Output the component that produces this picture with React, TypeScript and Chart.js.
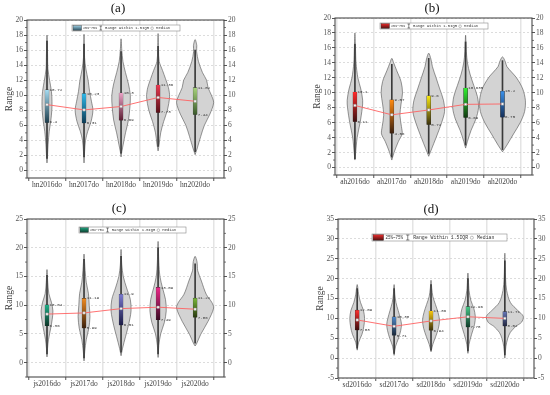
import React, { useEffect, useRef } from 'react';
import { Chart, registerables } from 'chart.js';
Chart.register(...registerables);

type Prof = [number, number][];

// ---------------- (a) ----------------
const catsA = ['hn2016do', 'hn2017do', 'hn2018do', 'hn2019do', 'hn2020do'];
const q3A = [10.72, 10.23, 10.3, 11.36, 11.02];
const q1A = [6.4, 6.31, 6.69, 7.73, 7.44];
const medA = [8.75, 8.05, 8.5, 9.7, 9.2];
const lowA = [1.6, 1.8, 2.3, 3.2, 2.5];
const highA = [17.2, 16.8, 15.8, 16.5, 16.0];
const violinsA: Prof[] = [
  [[1, 0], [1.8, 0.012], [3.5, 0.03], [5.2, 0.06], [6.5, 0.1], [8, 0.13], [9.2, 0.135], [10.5, 0.12], [12, 0.07], [13.5, 0.025], [15.5, 0.015], [18, 0]],
  [[1, 0], [2.5, 0.015], [4, 0.04], [5.2, 0.1], [6.5, 0.19], [8, 0.24], [9.2, 0.2], [10.5, 0.15], [12, 0.11], [13.5, 0.05], [15, 0.015], [18.1, 0]],
  [[1.8, 0], [2.5, 0.02], [3.5, 0.06], [5, 0.12], [6.7, 0.2], [8.5, 0.24], [10, 0.25], [11.5, 0.2], [13, 0.12], [14.5, 0.05], [16, 0.02], [17.5, 0]],
  [[2.6, 0], [3.5, 0.03], [5, 0.07], [6.5, 0.15], [8, 0.25], [9.8, 0.31], [11, 0.28], [12.2, 0.2], [13.3, 0.12], [14.5, 0.03], [16, 0.012], [18.2, 0]],
  [[2.1, 0], [3, 0.06], [4.5, 0.15], [6, 0.25], [7.5, 0.4], [9, 0.5], [10, 0.44], [11, 0.35], [12, 0.31], [13, 0.2], [14.5, 0.09], [15.8, 0.04], [16.6, 0.045], [17.4, 0]],
];
const topColA = ['#a6dcf2', '#2fbaec', '#eaa2c6', '#ec3a52', '#a8d47c'];
const botColA = ['#1f3f4e', '#0c3b55', '#5c1f33', '#5a1018', '#3c5a2c'];

// ---------------- (b) ----------------
const catsB = ['ah2016do', 'ah2017do', 'ah2018do', 'ah2019do', 'ah2020do'];
const q3B = [10.1, 9.07, 9.6, 10.635, 10.2];
const q1B = [6.11, 4.56, 5.72, 6.69, 6.75];
const medB = [8.3, 7.05, 7.7, 8.45, 8.5];
const lowB = [1.2, 1.4, 1.9, 3.0, 2.4];
const highB = [16.5, 13.8, 14.6, 16.8, 14.3];
const violinsB: Prof[] = [
  [[1, 0], [2, 0.02], [4, 0.06], [6, 0.14], [8, 0.2], [9, 0.21], [10.5, 0.16], [12, 0.08], [14, 0.03], [16, 0.015], [18, 0]],
  [[1, 0], [2, 0.06], [3.5, 0.18], [4.5, 0.28], [5.5, 0.26], [7, 0.22], [8.5, 0.25], [10, 0.29], [11.5, 0.25], [13, 0.13], [14, 0.05], [14.6, 0]],
  [[1.5, 0], [2.5, 0.08], [4, 0.2], [6, 0.35], [7.5, 0.43], [9, 0.4], [10.5, 0.3], [12, 0.2], [13.5, 0.1], [14.5, 0.06], [15.3, 0]],
  [[2.6, 0], [3.5, 0.05], [5, 0.15], [6.5, 0.28], [8, 0.35], [9.5, 0.32], [11, 0.22], [12.5, 0.12], [14, 0.05], [15.5, 0.02], [17.7, 0]],
  [[2.1, 0], [3, 0.12], [4.5, 0.3], [6, 0.48], [7.5, 0.6], [9, 0.62], [10.5, 0.55], [12, 0.38], [13.5, 0.12], [14.1, 0.08], [14.8, 0]],
];
const topColB = ['#ff2b2b', '#ff8a10', '#f8e810', '#30f030', '#3a90ea'];
const botColB = ['#3a1010', '#3a2010', '#3a3010', '#103a10', '#15305a'];

// ---------------- (c) ----------------
const catsC = ['js2016do', 'js2017do', 'js2018do', 'js2019do', 'js2020do'];
const q3C = [10.04, 11.19, 11.9, 13.09, 11.22];
const q1C = [6.36, 5.99, 6.51, 7.49, 7.86];
const medC = [8.45, 8.65, 9.4, 9.65, 9.3];
const lowC = [1.5, 0.8, 1.8, 1.5, 3.4];
const highC = [15.2, 18.0, 18.5, 20.0, 17.2];
const violinsC: Prof[] = [
  [[1, 0], [2.5, 0.015], [4, 0.04], [6, 0.1], [7.5, 0.14], [9, 0.16], [10.5, 0.12], [12, 0.05], [14, 0.02], [16.2, 0]],
  [[0.3, 0], [2, 0.02], [4, 0.06], [6, 0.13], [8, 0.16], [10, 0.14], [12, 0.12], [14, 0.06], [16, 0.03], [17.5, 0.015], [18.9, 0]],
  [[1.2, 0], [2.5, 0.04], [4.5, 0.12], [6.5, 0.2], [9, 0.27], [11, 0.25], [13, 0.15], [15, 0.06], [17, 0.02], [19.7, 0]],
  [[0.9, 0], [3, 0.02], [5, 0.07], [7, 0.17], [9, 0.22], [11, 0.2], [13, 0.12], [15, 0.05], [17.5, 0.02], [21.1, 0]],
  [[2.9, 0], [3.3, 0.04], [4.9, 0.15], [7.2, 0.35], [9.5, 0.5], [10.5, 0.45], [11.9, 0.3], [14.2, 0.17], [16, 0.07], [16.8, 0.06], [17.6, 0.05], [18.5, 0]],
];
const topColC = ['#20b088', '#f08a20', '#7a7ad0', '#f0288a', '#7ab838'];
const botColC = ['#0c3326', '#3a200c', '#1a1a44', '#3a0a22', '#28380f'];

// ---------------- (d) ----------------
const catsD = ['sd2016do', 'sd2017do', 'sd2018do', 'sd2019do', 'sd2020do'];
const q3D = [12.09, 10.38, 11.86, 12.96, 11.71];
const q1D = [7.03, 5.71, 6.94, 7.78, 8.02];
const medD = [9.6, 8.0, 9.35, 10.4, 10.0];
const lowD = [2.5, 1.2, 2.0, 1.8, 0.8];
const highD = [17.5, 17.5, 18.5, 20.0, 24.5];
const violinsD: Prof[] = [
  [[2, 0], [4, 0.04], [6, 0.13], [8, 0.18], [10, 0.2], [12, 0.17], [14, 0.09], [16, 0.04], [18.5, 0]],
  [[0.7, 0], [3, 0.04], [5, 0.12], [7, 0.18], [8.5, 0.2], [10, 0.17], [12, 0.11], [14, 0.05], [16, 0.02], [18.5, 0]],
  [[1.6, 0], [3.5, 0.05], [5.5, 0.13], [7.5, 0.2], [9.5, 0.23], [11.5, 0.19], [13.5, 0.12], [15.5, 0.05], [17.5, 0.02], [19.6, 0]],
  [[1.2, 0], [3.5, 0.03], [6, 0.1], [8.5, 0.18], [10.5, 0.2], [12.5, 0.16], [14.5, 0.08], [17, 0.03], [21.4, 0]],
  [[0, 0], [3, 0.03], [5, 0.08], [6.5, 0.15], [8, 0.3], [9, 0.45], [10.5, 0.5], [12, 0.35], [14, 0.15], [17, 0.05], [20, 0.02], [23, 0.01], [26.4, 0]],
];
const topColD = ['#ff3030', '#5088c8', '#f8c810', '#48c888', '#6878b8'];
const botColD = ['#3a0c0c', '#1a2838', '#3a300c', '#0f3a28', '#20253f'];

interface Panel {
  title: string; cats: string[]; q1: number[]; q3: number[]; med: number[]; low: number[]; high: number[];
  violins: Prof[]; tops: string[]; bots: string[];
  yMin: number; yMax: number; yStep: number; xMin: number; xMax: number;
  ox: number; oy: number; w: number; h: number;
  padLeft: number; padTop: number; rightW: number; xH: number;
  titleX: number; titleY: number; legDx: number; legDy: number; legW: number; legH: number;
}

const panels: Panel[] = [
  { title: '(a)', cats: catsA, q1: q1A, q3: q3A, med: medA, low: lowA, high: highA, violins: violinsA, tops: topColA, bots: botColA,
    yMin: -1, yMax: 20, yStep: 2, xMin: -0.54, xMax: 4.78, ox: 0, oy: 0, w: 275, h: 197,
    padLeft: 0, padTop: 20, rightW: 51, xH: 19, titleX: 118, titleY: 9, legDx: 45, legDy: 5, legW: 108, legH: 6 },
  { title: '(b)', cats: catsB, q1: q1B, q3: q3B, med: medB, low: lowB, high: highB, violins: violinsB, tops: topColB, bots: botColB,
    yMin: -1, yMax: 20, yStep: 2, xMin: -0.54, xMax: 4.8, ox: 275, oy: 0, w: 275, h: 197,
    padLeft: 33, padTop: 18, rightW: 18, xH: 22, titleX: 157, titleY: 9, legDx: 45, legDy: 5, legW: 108, legH: 6 },
  { title: '(c)', cats: catsC, q1: q1C, q3: q3C, med: medC, low: lowC, high: highC, violins: violinsC, tops: topColC, bots: botColC,
    yMin: -2.5, yMax: 25, yStep: 5, xMin: -0.54, xMax: 4.78, ox: 0, oy: 197, w: 275, h: 198,
    padLeft: 0, padTop: 22, rightW: 51, xH: 18, titleX: 119, titleY: 12, legDx: 52, legDy: 8, legW: 107, legH: 6 },
  { title: '(d)', cats: catsD, q1: q1D, q3: q3D, med: medD, low: lowD, high: highD, violins: violinsD, tops: topColD, bots: botColD,
    yMin: -5, yMax: 35, yStep: 5, xMin: -0.52, xMax: 4.79, ox: 275, oy: 197, w: 275, h: 198,
    padLeft: 36, padTop: 22, rightW: 16, xH: 17, titleX: 156, titleY: 13, legDx: 34, legDy: 15, legW: 135, legH: 7 },
];

const SERIF = "'Liberation Serif', 'DejaVu Serif', serif";
const MONO = "'Liberation Mono', 'DejaVu Sans Mono', monospace";

// Legend drawn in a fixed box; items laid out proportionally to its width.
function drawLegend(ctx: CanvasRenderingContext2D, x: number, y: number, W: number, h: number, top: string, bot: string) {
  ctx.save();
  const fs = h * 0.72;
  ctx.font = `${fs}px ${MONO}`;
  ctx.fillStyle = '#fff';
  ctx.fillRect(x, y, W, h);
  ctx.strokeStyle = '#8a8a8a';
  ctx.lineWidth = 0.6;
  ctx.strokeRect(x, y, W, h);
  const u = W / 108; // layout unit
  const rx = x + 1, rw = 8.5 * u;
  const g = ctx.createLinearGradient(0, y, 0, y + h);
  g.addColorStop(0, top); g.addColorStop(1, bot);
  ctx.fillStyle = g;
  ctx.fillRect(rx, y + 0.6, rw, h - 1.2);
  ctx.strokeStyle = '#333'; ctx.lineWidth = 0.4;
  ctx.strokeRect(rx, y + 0.6, rw, h - 1.2);
  ctx.fillStyle = '#333';
  ctx.textBaseline = 'middle';
  ctx.textAlign = 'left';
  const my = y + h / 2 + 0.2;
  const fit = (t: string, tx: number, tw: number) => {
    const m = ctx.measureText(t).width;
    ctx.save();
    ctx.translate(tx, my);
    ctx.scale(tw / m, 1);
    ctx.fillText(t, 0, 0);
    ctx.restore();
  };
  fit('25%~75%', rx + rw + 1.5 * u, 14 * u);
  // I symbol
  const sx = rx + rw + 18 * u, sw = 2.6 * u;
  ctx.strokeStyle = '#333'; ctx.lineWidth = 0.6;
  ctx.beginPath();
  ctx.moveTo(sx, y + 1); ctx.lineTo(sx + sw, y + 1);
  ctx.moveTo(sx + sw / 2, y + 1); ctx.lineTo(sx + sw / 2, y + h - 1);
  ctx.moveTo(sx, y + h - 1); ctx.lineTo(sx + sw, y + h - 1);
  ctx.stroke();
  fit('Range Within 1.5IQR', sx + sw + 3 * u, 44 * u);
  const cx = sx + sw + 50 * u;
  ctx.beginPath();
  ctx.arc(cx, my, h * 0.22, 0, Math.PI * 2);
  ctx.fillStyle = '#fff'; ctx.fill();
  ctx.strokeStyle = '#666'; ctx.lineWidth = 0.4; ctx.stroke();
  ctx.fillStyle = '#333';
  fit('Median', cx + 4 * u, 14 * u);
  ctx.restore();
}

function makeChart(canvas: HTMLCanvasElement, p: Panel) {
  const datasets: any[] = [];
  p.violins.forEach((prof, i) => {
    const right = prof.map(([v, hw]) => ({ x: i + hw, y: v }));
    const left = prof.slice(0, -1).reverse().map(([v, hw]) => ({ x: i - hw, y: v }));
    datasets.push({
      type: 'line', data: [...right, ...left], borderColor: '#505050', borderWidth: 0.6,
      backgroundColor: '#d3d3d3', fill: 'shape', tension: 0.3, pointRadius: 0, order: 10,
    });
  });
  datasets.push({
    type: 'bar', data: p.low.map((l, i) => ({ x: i, y: [l, p.high[i]] })),
    backgroundColor: '#3a3a3a', barThickness: 1, grouped: false, order: 9,
  });
  datasets.push({
    type: 'bar', data: p.q1.map((l, i) => ({ x: i, y: [l, p.q3[i]] })),
    backgroundColor: (c: any) => {
      const chart = c.chart;
      const i = c.dataIndex;
      if (!chart.chartArea || i === undefined) return p.tops[0];
      const ys = chart.scales.y;
      const g = chart.ctx.createLinearGradient(0, ys.getPixelForValue(p.q3[i]), 0, ys.getPixelForValue(p.q1[i]));
      g.addColorStop(0, p.tops[i]); g.addColorStop(1, p.bots[i]);
      return g;
    },
    borderColor: '#2a2a2a', borderWidth: 0.4, barThickness: 4, grouped: false, order: 8,
  });
  datasets.push({
    type: 'line', data: p.med.map((m, i) => ({ x: i, y: m })), borderColor: '#ff6262', borderWidth: 0.9,
    pointRadius: 0, fill: false, tension: 0, order: 7,
  });
  datasets.push({
    type: 'line', data: p.med.map((m, i) => ({ x: i, y: m })), showLine: false, pointStyle: 'rect',
    pointRadius: 1.7, pointBackgroundColor: '#ffffff', pointBorderColor: '#8a8a8a', pointBorderWidth: 0.5, order: 6,
  });

  const deco = {
    id: 'deco',
    afterDatasetsDraw(chart: any) {
      const ctx: CanvasRenderingContext2D = chart.ctx;
      const xs = chart.scales.x, ys = chart.scales.y;
      ctx.save();
      ctx.font = `4.2px ${MONO}`;
      ctx.fillStyle = '#333';
      ctx.textBaseline = 'middle';
      ctx.textAlign = 'left';
      p.cats.forEach((_, i) => {
        const x = xs.getPixelForValue(i) + 2.6;
        ctx.fillText(String(p.q3[i]), x, ys.getPixelForValue(p.q3[i]));
        ctx.fillText(String(p.q1[i]), x, ys.getPixelForValue(p.q1[i]));
      });
      ctx.restore();
    },
    afterDraw(chart: any) {
      const ctx: CanvasRenderingContext2D = chart.ctx;
      const a = chart.chartArea;
      const ys = chart.scales.y;
      ctx.save();
      ctx.strokeStyle = '#555';
      ctx.lineWidth = 0.8;
      const half = p.yStep / 2;
      ctx.beginPath();
      for (let v = Math.ceil(p.yMin / half) * half; v <= p.yMax; v += half) {
        if (Math.abs(v / p.yStep - Math.round(v / p.yStep)) < 1e-6) continue;
        const y = ys.getPixelForValue(v);
        ctx.moveTo(a.left - 2, y); ctx.lineTo(a.left, y);
        ctx.moveTo(a.right, y); ctx.lineTo(a.right + 2, y);
      }
      ctx.stroke();
      ctx.strokeStyle = '#4a4a4a';
      ctx.lineWidth = 1.1;
      ctx.strokeRect(a.left, a.top, a.right - a.left, a.bottom - a.top);
      ctx.restore();
      drawLegend(ctx, a.left + p.legDx, a.top + p.legDy, p.legW, p.legH, p.tops[0], p.bots[0]);
      ctx.save();
      ctx.font = `13px ${SERIF}`;
      ctx.fillStyle = '#111';
      ctx.textAlign = 'center';
      ctx.textBaseline = 'middle';
      ctx.fillText(p.title, p.titleX, p.titleY);
      ctx.restore();
    },
  };

  const tickFont = { family: SERIF, size: 7.5 };
  return new Chart(canvas, {
    type: 'line',
    data: { datasets },
    plugins: [deco],
    options: {
      responsive: false,
      animation: false,
      events: [],
      layout: { padding: { left: p.padLeft, top: p.padTop, right: 0, bottom: 0 } },
      plugins: { legend: { display: false }, tooltip: { enabled: false }, title: { display: false } },
      scales: {
        x: {
          type: 'linear', min: p.xMin, max: p.xMax, offset: false,
          afterBuildTicks: (s: any) => { s.ticks = p.cats.map((_, i) => ({ value: i })); },
          afterFit: (s: any) => { s.height = p.xH; },
          ticks: { callback: (v: any) => p.cats[v] ?? '', autoSkip: false, maxRotation: 0, minRotation: 0, font: tickFont, color: '#444', padding: 0 },
          grid: { color: '#e4e4e4', lineWidth: 1.5, tickColor: '#555', tickLength: 3, tickWidth: 1 },
          border: { display: false },
        },
        y: {
          type: 'linear', position: 'left', min: p.yMin, max: p.yMax,
          afterFit: (s: any) => { s.width = 27; },
          ticks: { stepSize: p.yStep, includeBounds: false, font: tickFont, color: '#555', padding: 1 },
          title: { display: true, text: 'Range', font: { family: SERIF, size: 9.5 }, color: '#444', padding: { top: 4, bottom: 0 } },
          grid: { color: '#d4d4d4', lineWidth: 0.8, tickColor: '#555', tickLength: 3, tickWidth: 1 },
          border: { display: false, dash: [2, 2] },
        },
        y2: {
          type: 'linear', position: 'right', min: p.yMin, max: p.yMax,
          afterFit: (s: any) => { s.width = p.rightW; },
          ticks: { stepSize: p.yStep, includeBounds: false, font: tickFont, color: '#555', padding: 1 },
          grid: { drawOnChartArea: false, tickColor: '#555', tickLength: 3, tickWidth: 1 },
          border: { display: false },
        },
      },
    } as any,
  });
}

function PanelView({ p }: { p: Panel }) {
  const ref = useRef<HTMLCanvasElement>(null);
  useEffect(() => {
    const c = makeChart(ref.current as HTMLCanvasElement, p);
    return () => c.destroy();
  }, []);
  return (
    <div style={{ position: 'absolute', left: p.ox, top: p.oy, width: p.w, height: p.h }}>
      <canvas ref={ref} width={p.w} height={p.h} style={{ display: 'block', width: p.w, height: p.h }} />
    </div>
  );
}

export default function App() {
  return (
    <div style={{ position: 'fixed', left: 0, top: 0, width: 550, height: 395, background: '#fff' }}>
      {panels.map((p) => <PanelView key={p.title} p={p} />)}
    </div>
  );
}
